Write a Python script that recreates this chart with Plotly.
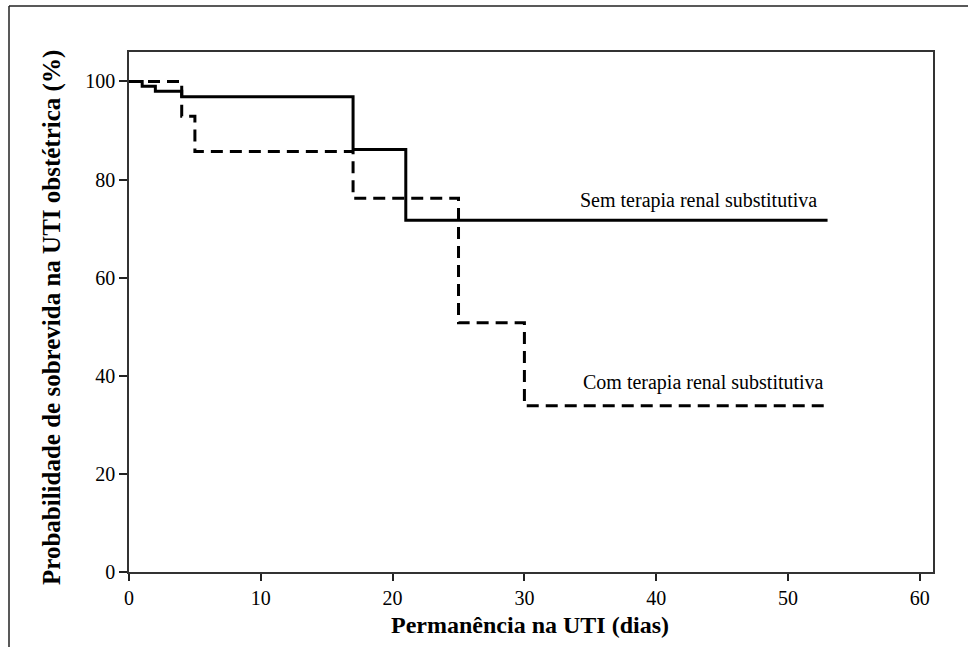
import plotly.graph_objects as go

# Data (Kaplan-Meier step curves)
tempo_sem = [0, 1, 2, 4, 17, 21, 53]
sobrev_sem = [100, 99.0, 98.0, 96.9, 86.1, 71.7, 71.7]
tempo_com = [0, 4, 5, 17, 25, 30, 53]
sobrev_com = [100, 92.9, 85.7, 76.2, 50.8, 33.9, 33.9]
x_ticks = [0, 10, 20, 30, 40, 50, 60]
y_ticks = [0, 20, 40, 60, 80, 100]

W, H = 968, 647
L, R, T, B = 129, 35, 52, 75
FONT = "'Liberation Serif', 'Times New Roman', Tinos, 'DejaVu Serif', serif"

fig = go.Figure()
fig.add_trace(go.Scatter(x=tempo_sem, y=sobrev_sem, mode="lines", line_shape="hv",
                         line=dict(color="black", width=3), showlegend=False,
                         name="Sem terapia renal substitutiva"))
fig.add_trace(go.Scatter(x=tempo_com, y=sobrev_com, mode="lines", line_shape="hv",
                         line=dict(color="black", width=3, dash="12px,7px"), showlegend=False,
                         name="Com terapia renal substitutiva"))

fig.add_annotation(x=43.2, y=75.8, text="Sem terapia renal substitutiva", showarrow=False,
                   font=dict(family=FONT, size=20, color="black"))
fig.add_annotation(x=43.6, y=38.6, text="Com terapia renal substitutiva", showarrow=False,
                   font=dict(family=FONT, size=20, color="black"))

pw = W - L - R
ph = H - T - B
def px(xp):
    return (xp - L) / pw
def py(yp):
    return (H - B - yp) / ph

# axis titles
fig.add_annotation(xref="paper", yref="paper", x=px(530), y=py(625), showarrow=False,
                   text="<b>Permanência na UTI (dias)</b>", font=dict(family=FONT, size=24),
                   xanchor="center", yanchor="middle")
fig.add_annotation(xref="paper", yref="paper", x=px(52), y=py(318), showarrow=False,
                   text="<b>Probabilidade de sobrevida na UTI obstétrica (%)</b>",
                   font=dict(family=FONT, size=25), textangle=-90,
                   xanchor="center", yanchor="middle")

# outer frame (left and top edges)
fig.add_shape(type="line", xref="paper", yref="paper", x0=px(9), x1=px(9), y0=py(6), y1=py(650),
              line=dict(color="#222", width=1.5))
fig.add_shape(type="line", xref="paper", yref="paper", x0=px(9), x1=px(970), y0=py(6), y1=py(6),
              line=dict(color="#222", width=1.5))

fig.update_layout(
    width=W, height=H,
    margin=dict(l=L, r=R, t=T, b=B),
    plot_bgcolor="white", paper_bgcolor="white",
    font=dict(family=FONT, color="black"),
    xaxis=dict(range=[0, 61], tickvals=x_ticks, ticks="outside", ticklen=7, tickwidth=1.5,
               tickcolor="#222", showline=True, linecolor="#333", linewidth=1.5, mirror=True,
               showgrid=False, zeroline=False, tickfont=dict(family=FONT, size=20)),
    yaxis=dict(range=[0, 106], tickvals=y_ticks, ticks="outside", ticklen=8, tickwidth=1.5,
               tickcolor="#222", showline=True, linecolor="#333", linewidth=1.5, mirror=True,
               showgrid=False, zeroline=False, tickfont=dict(family=FONT, size=20)),
)

fig.write_html("out.html")
